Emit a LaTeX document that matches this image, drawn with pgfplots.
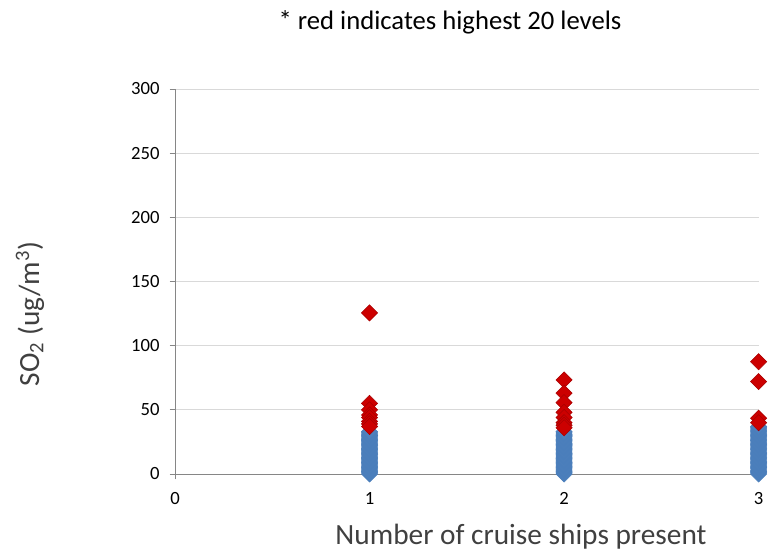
\documentclass[border=0pt]{standalone}
\usepackage{pgfplots}
\pgfplotsset{compat=1.18}
\usepackage{fontspec}
\setmainfont{Carlito}
\definecolor{exblue}{HTML}{4F81BD}
\definecolor{exblueedge}{HTML}{4A7EBB}
\definecolor{exred}{HTML}{CC0000}
\definecolor{exrededge}{HTML}{A80000}
\definecolor{axgray}{HTML}{868686}
\definecolor{grgray}{HTML}{D9D9D9}
\definecolor{labgray}{HTML}{404040}
\begin{document}
\begin{tikzpicture}
\path[use as bounding box] (-131.25pt,-58.5pt) rectangle (450pt,355.5pt);
\begin{axis}[
  anchor=origin, at={(0pt,0pt)},
  x=145.9pt, y=0.9625pt,
  xmin=0, xmax=3, ymin=0, ymax=300,
  xtick={0,1,2,3}, ytick={0,50,...,300},
  axis x line*=bottom, axis y line*=left,
  axis line style={draw=axgray, line width=0.6pt},
  ymajorgrids, grid style={draw=grgray, line width=0.6pt},
  tick style={draw=axgray, line width=0.6pt},
  major tick length=4pt,
  tick align=outside,
  xtick pos=bottom, ytick pos=left,
  /pgf/number format/assume math mode=true,
  ticklabel style={font=\fontsize{14}{16}\selectfont, text=black},
  yticklabel style={xshift=-4pt},
  xticklabel style={yshift=-6pt},
  clip=false,
]
\addplot[only marks, mark=square*, mark size=4.3pt, mark options={rotate=45, fill=exblue, draw=exblueedge, line width=0.4pt}] coordinates {
(1,0) (1,1) (1,2) (1,3) (1,4) (1,5) (1,6) (1,7) (1,8) (1,9) (1,10) (1,11) (1,12) (1,13) (1,14) (1,15) (1,16) (1,17) (1,18) (1,19) (1,20) (1,21) (1,22) (1,23) (1,24) (1,25) (1,26) (1,27) (1,28) (1,29) (1,30) (1,31) (1,32) (1,33)
(2,0) (2,1) (2,2) (2,3) (2,4) (2,5) (2,6) (2,7) (2,8) (2,9) (2,10) (2,11) (2,12) (2,13) (2,14) (2,15) (2,16) (2,17) (2,18) (2,19) (2,20) (2,21) (2,22) (2,23) (2,24) (2,25) (2,26) (2,27) (2,28) (2,29) (2,30) (2,31) (2,32) (2,33)
(3,0) (3,1) (3,2) (3,3) (3,4) (3,5) (3,6) (3,7) (3,8) (3,9) (3,10) (3,11) (3,12) (3,13) (3,14) (3,15) (3,16) (3,17) (3,18) (3,19) (3,20) (3,21) (3,22) (3,23) (3,24) (3,25) (3,26) (3,27) (3,28) (3,29) (3,30) (3,31) (3,32) (3,33) (3,34) (3,35) (3,36) (3,37)
};
\addplot[only marks, mark=square*, mark size=4.3pt, mark options={rotate=45, fill=exred, draw=exrededge, line width=0.4pt}] coordinates {
(1,125.5) (1,55) (1,50) (1,46) (1,44) (1,41) (1,39) (1,37)
(2,73.3) (2,63) (2,55.6) (2,48) (2,44) (2,40) (2,38) (2,36)
(3,87.5) (3,72) (3,43.5) (3,40)
};
\end{axis}
\node[font=\fontsize{20}{24}\selectfont] at (206.25pt,339pt) {* red indicates highest 20 levels};
\node[font=\fontsize{22}{26}\selectfont, text=labgray] at (259.5pt,-47pt) {Number of cruise ships present};
\node[font=\fontsize{22}{26}\selectfont, text=labgray, rotate=90] at (-108.75pt,120pt) {SO\textsubscript{2} (ug/m\textsuperscript{3})};
\end{tikzpicture}
\end{document}
